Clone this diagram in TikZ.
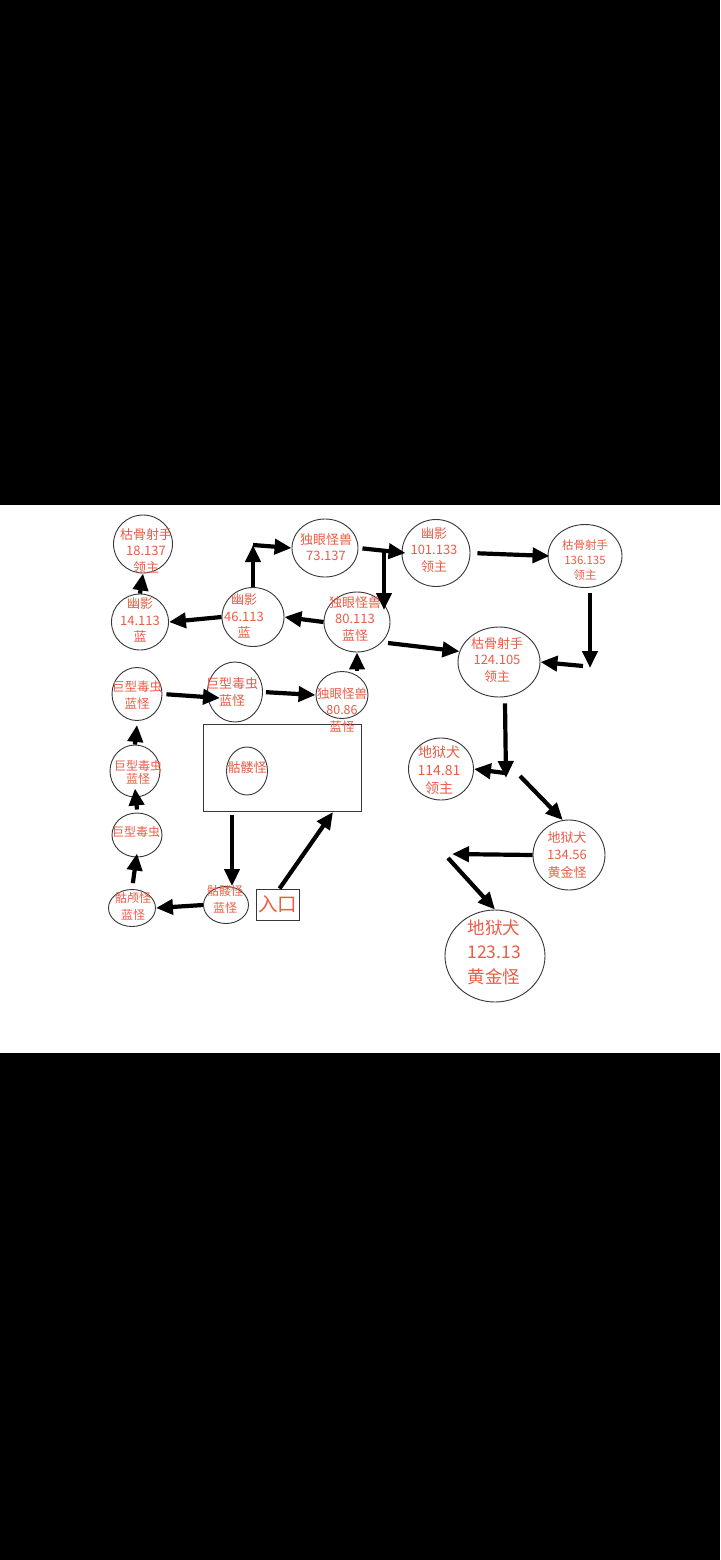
\documentclass[tikz,border=0pt]{standalone}
\usepackage{fontspec}
\setmainfont{Noto Sans CJK SC}
\usetikzlibrary{shapes.geometric,arrows.meta}
\definecolor{txtred}{RGB}{236,92,70}
\definecolor{edgegray}{RGB}{55,55,55}
\begin{document}
\begin{tikzpicture}[x=1pt,y=-1pt,
  ell/.style={ellipse,draw=edgegray,line width=0.9pt,inner sep=0pt},
  lbl/.style={text=txtred,align=center,inner sep=0pt,font=\fontsize{13}{16.5}\selectfont},
  arr/.style={line width=4.2pt,-{Triangle[length=17pt,width=15pt]}}]
\useasboundingbox (0,0) rectangle (720,1560);
\fill[black] (0,0) rectangle (720,1560);
\fill[white] (0,505) rectangle (720,1053);

% ellipses
\node[ell,minimum width=59pt,minimum height=58pt] (n1) at (143,544) {};
\node[ell,minimum width=57pt,minimum height=56pt] (n2) at (140,622) {};
\node[ell,minimum width=62pt,minimum height=59pt] (n3) at (253,617) {};
\node[ell,minimum width=66pt,minimum height=58pt] (n4) at (325,548) {};
\node[ell,minimum width=68pt,minimum height=67pt] (n5) at (436,553) {};
\node[ell,minimum width=74pt,minimum height=63pt] (n6) at (585,556) {};
\node[ell,minimum width=66pt,minimum height=60pt] (n7) at (357,622) {};
\node[ell,minimum width=82pt,minimum height=70pt] (n8) at (499,662) {};
\node[ell,minimum width=50pt,minimum height=53pt] (n9) at (137,694) {};
\node[ell,minimum width=55pt,minimum height=60pt] (n10) at (235,692) {};
\node[ell,minimum width=52pt,minimum height=47pt] (n11) at (342,695) {};
\node[draw=edgegray,line width=0.9pt,minimum width=158pt,minimum height=87pt,inner sep=0pt] (R) at (282,767.5) {};
\node[ell,minimum width=41pt,minimum height=48pt] (n13) at (247,771) {};
\node[ell,minimum width=50pt,minimum height=52pt] (n14) at (135,771) {};
\node[ell,minimum width=50pt,minimum height=44pt] (n15) at (137,835) {};
\node[ell,minimum width=47pt,minimum height=37pt] (n16) at (132,908) {};
\node[ell,minimum width=45pt,minimum height=37pt] (n17) at (226,905) {};
\node[draw=edgegray,line width=0.9pt,minimum width=43pt,minimum height=31pt,inner sep=0pt,text=txtred,font=\fontsize{19.5}{20}\selectfont] (entry) at (277.5,904.5) {入口};
\node[ell,minimum width=65pt,minimum height=62pt] (n19) at (441,769) {};
\node[ell,minimum width=72pt,minimum height=70pt] (n20) at (569,855) {};
\node[ell,minimum width=100pt,minimum height=92pt] (n21) at (495,956) {};

% labels
\node[lbl] (t1) at (146,551) {枯骨射手\\18.137\\领主};
\node[lbl] (t2) at (140,620) {幽影\\14.113\\蓝};
\node[lbl] (t3) at (244,616) {幽影\\46.113\\蓝};
\node[lbl] (t4) at (326,547) {独眼怪兽\\73.137};
\node[lbl] (t5) at (434,550) {幽影\\101.133\\领主};
\node[lbl,font=\fontsize{11.5}{15}\selectfont] (t6) at (585,560) {枯骨射手\\136.135\\领主};
\node[lbl] (t7) at (355,619) {独眼怪兽\\80.113\\蓝怪};
\node[lbl] (t8) at (497,660) {枯骨射手\\124.105\\领主};
\node[lbl,font=\fontsize{12.5}{16.5}\selectfont] (t9) at (137,695) {巨型毒虫\\蓝怪};
\node[lbl] (t10) at (232,692) {巨型毒虫\\蓝怪};
\node[lbl,font=\fontsize{12.5}{16.5}\selectfont] (t11) at (342,710) {独眼怪兽\\80.86\\蓝怪};
\node[lbl] (t13) at (247,768) {骷髅怪};
\node[lbl,font=\fontsize{12}{13}\selectfont] (t14) at (138,772) {巨型毒虫\\蓝怪};
\node[lbl,font=\fontsize{12}{13}\selectfont] (t15) at (136,832) {巨型毒虫};
\node[lbl,font=\fontsize{12}{17}\selectfont] (t16) at (133,906) {骷颅怪\\蓝怪};
\node[lbl,font=\fontsize{12}{17}\selectfont] (t17) at (225,899) {骷髅怪\\蓝怪};
\node[lbl,font=\fontsize{14}{18}\selectfont] (t19) at (439,770) {地狱犬\\114.81\\领主};
\node[lbl,font=\fontsize{13}{17.5}\selectfont] (t20) at (567,855) {地狱犬\\134.56\\黄金怪};
\node[lbl,font=\fontsize{17.5}{24.5}\selectfont] (t21) at (494,952) {地狱犬\\123.13\\黄金怪};

% free connector ends
\coordinate (j1) at (253,545);
\coordinate (j2) at (384,552);
\coordinate (j3) at (384,610);
\coordinate (j5) at (590,668);
\coordinate (j6) at (583,666);
\coordinate (j7) at (388,643);
\coordinate (j8) at (220,698);
\coordinate (j9) at (232,815);
\coordinate (j10) at (333,812);
\coordinate (j11) at (506,778);
\coordinate (j13) at (505,773);
\coordinate (j14) at (520,776);
\coordinate (j15) at (452,854);
\coordinate (j16) at (448,858);

% connectors
\draw[arr] (n2.north) -- (n1.south);
\draw[arr] (n3.west) -- (n2.east);
\draw[arr] (n7.west) -- (n3.east);
\draw[arr] (n3.north) -- (j1);
\draw[arr] (j1) -- (n4.west);
\draw[arr,shorten <=4pt] (n4.east) -- ([xshift=4pt]n5.west);
\draw[arr] (j2) -- (j3);
\draw[arr,shorten <=7pt] (n5.east) -- ([xshift=2pt]n6.west);
\draw[arr] ([xshift=5pt,yshift=-5pt]n6.south) -- (j5);
\draw[arr] (j6) -- (n8.east);
\draw[arr] (j7) -- (n8.165);
\draw[arr] (n7.south |- n11.north) -- (n7.south);
\draw[arr,shorten <=4pt] (n9.east) -- (j8);
\draw[arr,shorten <=3pt] (n10.east) -- (n11.west);
\draw[arr] (n14.north) -- ([yshift=-4pt]n9.south);
\draw[arr] ([yshift=3pt]n15.north) -- ([yshift=9pt]n14.south);
\draw[arr,shorten <=6pt] (n16.north) -- ([yshift=4pt]n15.south);
\draw[arr] (n17.west) -- (n16.east);
\draw[arr] (j9) -- (j9 |- n17.north);
\draw[arr] ([xshift=2pt]entry.north) -- (j10);
\draw[arr] ([xshift=6pt,yshift=-6pt]n8.south) -- (j11);
\draw[arr] (j13) -- (n19.east);
\draw[arr] (j14) -- (n20.100);
\draw[arr] (n20.west) -- (j15);
\draw[arr] (j16) -- (n21.north);
\end{tikzpicture}
\end{document}
